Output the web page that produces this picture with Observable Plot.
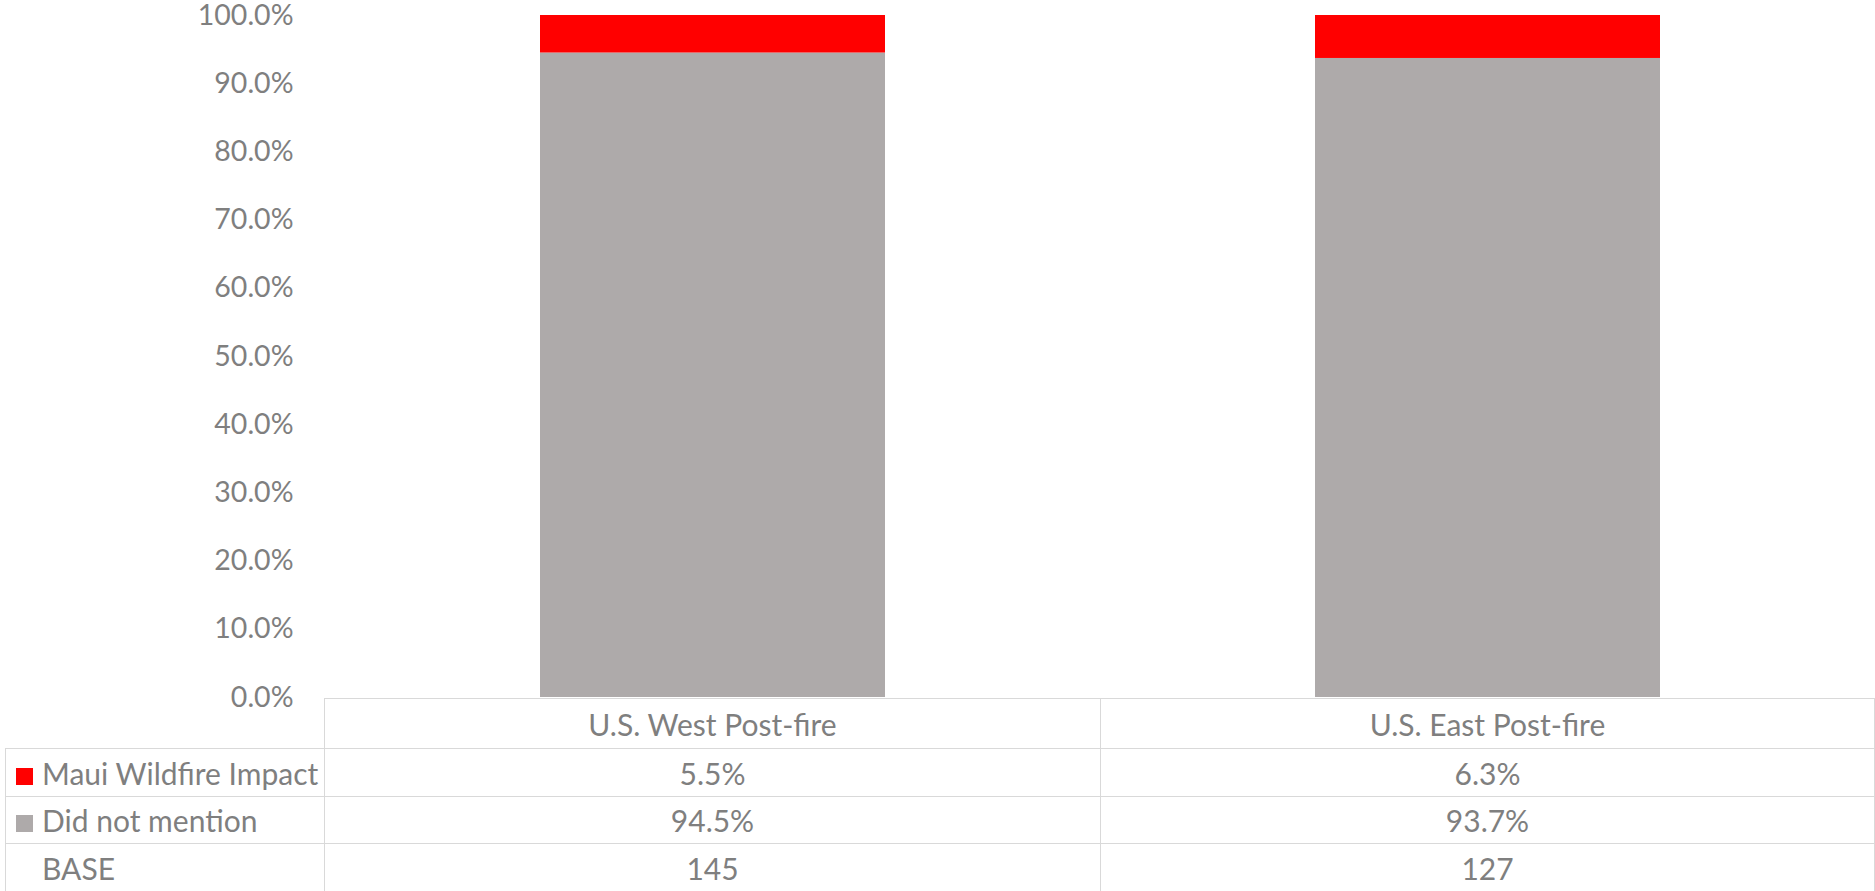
<!DOCTYPE html>
<html>
<head>
<meta charset="utf-8">
<script src="https://cdn.jsdelivr.net/npm/d3@7"></script>
<script src="https://cdn.jsdelivr.net/npm/@observablehq/plot@0.6"></script>
<style>
  html, body { margin: 0; padding: 0; background: #fff; }
  body { width: 1875px; height: 891px; overflow: hidden; font-family: Lato, "Open Sans", sans-serif; }
  #chart { position: relative; z-index: 2; height: 698px; }
  #chart svg { display: block; overflow: visible; }
  #table { position: relative; z-index: 1; }
  table.dt { border-collapse: collapse; table-layout: fixed; margin-left: 5px; font-size: 30px; color: #7f7f7f; }
  table.dt td { border: 1px solid #d9d9d9; padding: 0; text-align: center; white-space: nowrap; overflow: hidden; }
  table.dt td.lab { text-align: left; padding-left: 10px; }
  table.dt td.blank { border-left: none; border-top: none; border-bottom: 1px solid #d9d9d9; }
  .sw { display: inline-block; width: 17px; height: 17px; margin-right: 9px; vertical-align: 0px; }
</style>
</head>
<body>
<div id="chart"></div>
<div id="table"></div>
<script>
const categories = ["U.S. West Post-fire", "U.S. East Post-fire"];
const series = ["Maui Wildfire Impact", "Did not mention"];
const mauiValues = [0.055, 0.063];
const didNotMentionValues = [0.945, 0.937];
const baseValues = [145, 127];
const seriesColors = ["#ff0000", "#aeaaaa"];
const yTicks = [0, 0.1, 0.2, 0.3, 0.4, 0.5, 0.6, 0.7, 0.8, 0.9, 1.0];

const rows = [];
categories.forEach((c, i) => {
  rows.push({category: c, series: series[1], value: didNotMentionValues[i]});
  rows.push({category: c, series: series[0], value: mauiValues[i]});
});

const chart = Plot.plot({
  width: 1875,
  height: 698,
  marginLeft: 324,
  marginRight: 0,
  marginTop: 15,
  marginBottom: 1,
  style: {fontFamily: "Lato, 'Open Sans', sans-serif", fontSize: "28.5px", color: "#7f7f7f", background: "transparent", overflow: "visible"},
  x: {domain: categories, paddingInner: 0.555, paddingOuter: 0.277, axis: null},
  y: {domain: [0, 1], ticks: yTicks, tickFormat: d3.format(".1%"), tickSize: 0, tickPadding: 31, label: null},
  color: {domain: series, range: seriesColors},
  marks: [
    Plot.barY(rows, {x: "category", y: "value", fill: "series", order: [series[1], series[0]]})
  ]
});
document.getElementById("chart").appendChild(chart);

const fmtPct = d3.format(".1%");
const table = d3.select("#table").append("table").attr("class", "dt");
const cg = table.append("colgroup");
cg.append("col").style("width", "319px");
cg.append("col").style("width", "776px");
cg.append("col").style("width", "774px");

const hdr = table.append("tr").style("height", "50px");
hdr.append("td").attr("class", "blank");
categories.forEach(c => hdr.append("td").text(c));

const bodyRows = [
  {label: series[0], color: seriesColors[0], values: mauiValues.map(fmtPct), h: 48},
  {label: series[1], color: seriesColors[1], values: didNotMentionValues.map(fmtPct), h: 47},
  {label: "BASE", color: null, values: baseValues.map(String), h: 48}
];
bodyRows.forEach(r => {
  const tr = table.append("tr").style("height", r.h + "px");
  const td = tr.append("td").attr("class", "lab");
  const sw = td.append("span").attr("class", "sw");
  if (r.color) sw.style("background", r.color); else sw.style("background", "transparent");
  td.append("span").text(r.label);
  r.values.forEach(v => tr.append("td").text(v));
});
</script>
</body>
</html>
